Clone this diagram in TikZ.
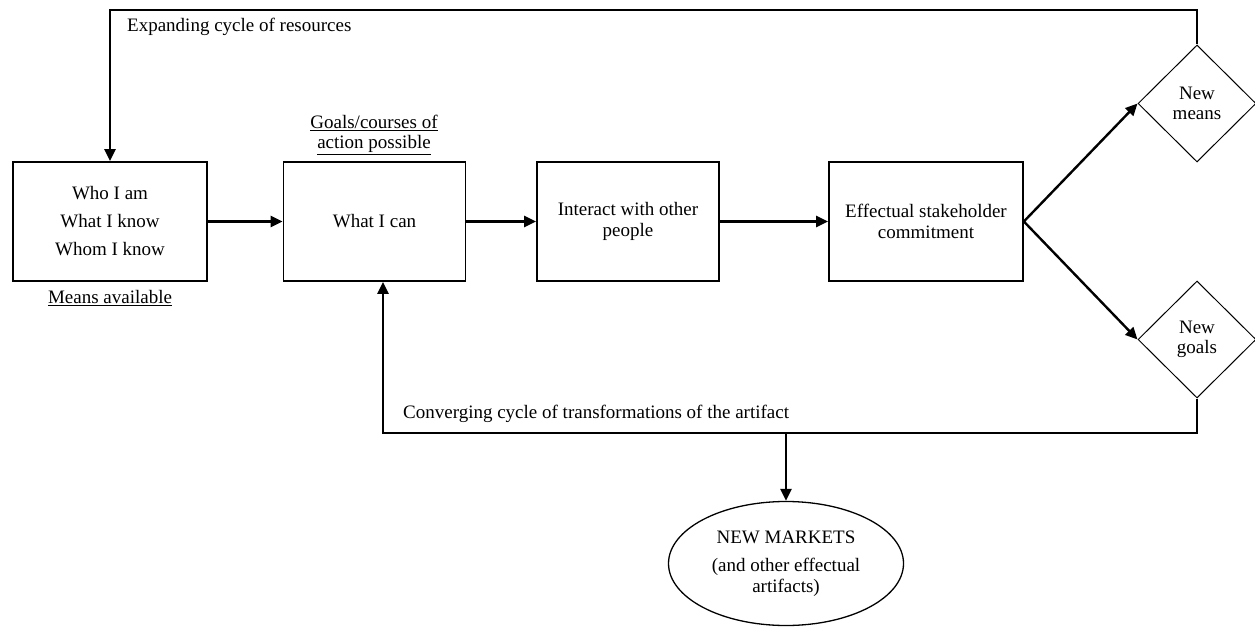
\documentclass[tikz,border=0pt]{standalone}
\usepackage{fontspec}
\setmainfont{Liberation Serif}
\usetikzlibrary{shapes.geometric,arrows.meta}
\begin{document}
\begin{tikzpicture}[x=1pt,y=-1pt,
  every node/.style={font=\fontsize{19}{20.5}\selectfont},
  box/.style={draw,line width=1.7pt,minimum height=119pt,align=center,inner sep=2pt},
  dia/.style={draw,diamond,line width=1pt,minimum width=118pt,minimum height=117pt,inner sep=0pt,align=center},
  oval/.style={draw,ellipse,line width=1.3pt,minimum width=235pt,minimum height=124pt,align=center,inner sep=0pt},
  arr/.style={line width=2.4pt,-{Triangle[length=12pt,width=11pt]}},
  lbl/.style={inner sep=0pt,align=center}]
\useasboundingbox (0,0) rectangle (1255,628);
\node[box,minimum width=194pt] (b1) at (110,221.5) {Who I am\\[7.5pt]What I know\\[7.5pt]Whom I know};
\node[box,minimum width=182pt] (b2) at (374.5,221.5) {What I can};
\node[box,minimum width=182pt] (b3) at (628,221.5) {Interact with other\\people};
\node[box,minimum width=194pt] (b4) at (926,221.5) {Effectual stakeholder\\commitment};
\node[dia] (nm) at (1197,103.5) {New\\means};
\node[dia] (ng) at (1197,339.5) {New\\goals};
\node[oval] (mk) at (786,563.5) {NEW MARKETS\\[7.5pt](and other effectual\\artifacts)};
\node[lbl,anchor=west] (exp) at (127,27) {Expanding cycle of resources};
\node[lbl] (goals) at (374,135) {\underline{Goals/courses of}\\\underline{action possible}};
\node[lbl] (means) at (110,298) {\underline{Means available}};
\node[lbl,anchor=west] (conv) at (403,414) {Converging cycle of transformations of the artifact};
\coordinate (tr) at (1197,10);
\coordinate (tl) at (110,10);
\coordinate (br) at (1197,433);
\coordinate (bl) at (383,433);
\coordinate (bm) at (786,433);
\draw[arr] (b1.east) -- (b2.west);
\draw[arr] (b2.east) -- (b3.west);
\draw[arr] (b3.east) -- (b4.west);
\draw[arr] (b4.east) -- (nm.west);
\draw[arr] (b4.east) -- (ng.west);
\draw[arr] (nm.north) -- (tr) -- (tl) -- (b1.north);
\draw[arr] (ng.south) -- (br) -- (bl) -- (bl |- b2.south);
\draw[arr] (bm) -- (mk.north);
\end{tikzpicture}
\end{document}
